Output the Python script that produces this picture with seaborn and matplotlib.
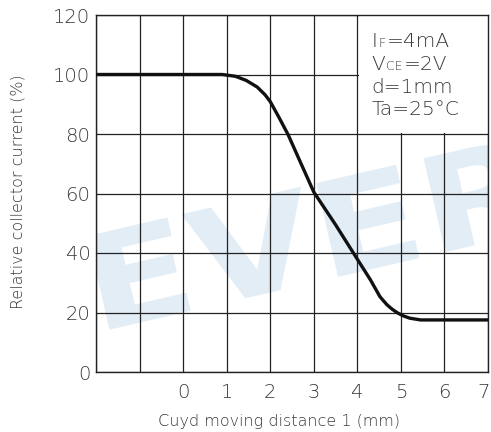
import matplotlib
matplotlib.use("Agg")
import matplotlib.pyplot as plt
import seaborn as sns
import pandas as pd
from matplotlib.patches import Rectangle, PathPatch
from matplotlib.textpath import TextPath
from matplotlib.font_manager import FontProperties
from matplotlib.transforms import Affine2D, IdentityTransform, ScaledTranslation

# Relative collector current versus card moving distance
distance = [-2.0, 0.9, 1.2, 1.45, 1.7, 1.88, 2.0, 2.2, 2.41, 2.7, 3.0, 3.5, 3.91,
            4.3, 4.52, 4.68, 4.8, 4.92, 5.05, 5.2, 5.45, 7.0]
current = [100.0, 100.0, 99.4, 98.0, 95.8, 93.2, 90.9, 85.6, 79.8, 70.3, 60.5, 49.5, 40.0,
           31.0, 25.3, 22.6, 21.1, 19.9, 18.9, 18.1, 17.5, 17.5]

x_ticks = list(range(-2, 8))
x_tick_labels = ["", "", "0", "1", "2", "3", "4", "5", "6", "7"]
y_ticks = [0, 20, 40, 60, 80, 100, 120]

x_label = "Cuyd moving distance 1 (mm)"
y_label = "Relative collector current (%)"

# Test conditions: (text, relative size) pieces per line
conditions = [
    [("I", 1.0), ("F", 0.62), ("=4mA", 1.0)],
    [("V", 1.0), ("CE", 0.62), ("=2V", 1.0)],
    [("d=1mm", 1.0)],
    [("Ta=25°C", 1.0)],
]
condition_baselines = [109.2, 101.5, 93.8, 86.4]

sns.set_theme(style="white")
plt.rcParams["font.family"] = ["DejaVu Sans"]

W, H = 491, 432
fig = plt.figure(figsize=(W / 100, H / 100), dpi=100)
fig.patch.set_facecolor("white")
ax = fig.add_axes([96 / W, 1 - 372 / H, (488 - 96) / W, (372 - 15) / H])

df = pd.DataFrame({"distance": distance, "current": current})
sns.lineplot(data=df, x="distance", y="current", ax=ax, color="#111111",
             linewidth=2.4, zorder=4, solid_capstyle="butt")

ax.set_xlim(-2, 7)
ax.set_ylim(0, 120)
ax.set_xticks(x_ticks)
ax.set_xticklabels(x_tick_labels)
ax.set_yticks(y_ticks)
ax.set_axisbelow(True)
ax.grid(True, color="#222222", linewidth=0.9)
for sp in ax.spines.values():
    sp.set_visible(True)
    sp.set_color("#222222")
    sp.set_linewidth(1.0)

tick_color = "#3a3a3a"
ax.tick_params(axis="both", length=0, labelsize=14, labelcolor=tick_color)
ax.tick_params(axis="x", pad=8)
ax.tick_params(axis="y", pad=4)
for lab in ax.get_xticklabels() + ax.get_yticklabels():
    lab.set_fontweight("light")
# keep the last x label inside the canvas
last = ax.get_xticklabels()[-1]
last.set_transform(last.get_transform() + ScaledTranslation(-0.04, 0, fig.dpi_scale_trans))

ax.set_xlabel(x_label, fontsize=11.5, color=tick_color, fontweight="light")
ax.set_ylabel(y_label, fontsize=11.5, color=tick_color, fontweight="light")
ax.xaxis.set_label_coords(0.467, -0.14)
ax.xaxis.label.set_va("center")
ax.yaxis.set_label_coords(-0.199, 0.504)
ax.yaxis.label.set_va("center")

# Faint company watermark behind the grid
tp = TextPath((0, 0), "EVER", size=132,
              prop=FontProperties(family="DejaVu Sans", weight="bold"))
wm_tr = Affine2D().scale(1.22, 1.0).rotate_deg(13).translate(95, 99)
ax.add_patch(PathPatch(tp, transform=wm_tr, facecolor="#e3edf6",
                       edgecolor="none", zorder=0.2))

# Blank panel holding the test conditions
ax.add_patch(Rectangle((4.03, 80.4), 3.0, 40, facecolor="white",
                       edgecolor="none", zorder=2))

fig.canvas.draw()
renderer = fig.canvas.get_renderer()
base_size = 14.5
for pieces, yb in zip(conditions, condition_baselines):
    xd, yd = ax.transData.transform((4.33, yb))
    for s, scale in pieces:
        t = ax.text(xd, yd, s, transform=IdentityTransform(), fontsize=base_size * scale,
                    ha="left", va="baseline", color=tick_color, fontweight="light", zorder=5)
        bb = t.get_window_extent(renderer)
        xd = bb.x1 + 1

fig.savefig("out.png", dpi=100)
